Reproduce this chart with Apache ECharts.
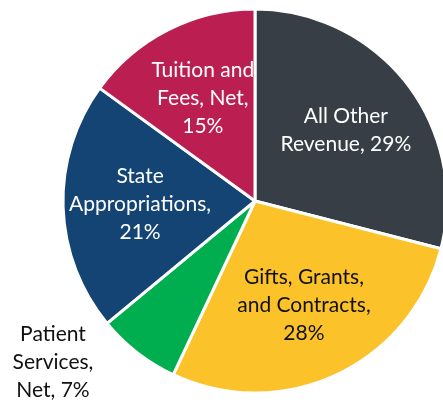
<!DOCTYPE html>
<html>
<head>
<meta charset="utf-8">
<script src="https://cdn.jsdelivr.net/npm/echarts@6/dist/echarts.min.js"></script>
<style>
  html, body { margin: 0; padding: 0; background: #fff; }
  #chart { width: 443px; height: 402px; }
</style>
</head>
<body>
<div id="chart"></div>
<script>
var categories = ['All Other Revenue', 'Gifts, Grants, and Contracts', 'Patient Services, Net', 'State Appropriations', 'Tuition and Fees, Net'];
var shares = [29, 28, 7, 21, 15];
var label_lines = [
    ['All Other', 'Revenue, 29%'],
    ['Gifts, Grants,', 'and Contracts,', '28%'],
    ['Patient', 'Services,', 'Net, 7%'],
    ['State', 'Appropriations,', '21%'],
    ['Tuition and', 'Fees, Net,', '15%']
];
var slice_colors = ['#373e45', '#fbc229', '#00ae4f', '#134473', '#bb1f52'];
var label_colors = ['#ffffff', '#111111', '#111111', '#ffffff', '#ffffff'];

var revenue_chart = echarts.init(document.getElementById('chart'));

var pie_data = categories.map(function (name, i) {
    return { name: name, value: shares[i], itemStyle: { color: slice_colors[i] } };
});

// transparent copy of the pie, only used to place the inside labels a bit further out
var label_data = categories.map(function (name, i) {
    return {
        name: name,
        value: shares[i],
        label: { show: i !== 2, color: label_colors[i], formatter: label_lines[i].join('\n') }
    };
});

var patient_item = pie_data[2];
patient_item.label = {
    show: true,
    position: 'outside',
    formatter: '{t|' + label_lines[2].join('\n') + '}',
    rich: { t: { width: 84, align: 'center', fontSize: 21, lineHeight: 28, fontFamily: 'Lato', color: '#111111' } }
};
patient_item.labelLine = { show: false, length: 12, length2: 30 };

var options = {
    animation: false,
    series: [
        {
            type: 'pie',
            center: [255, 201],
            radius: 192,
            startAngle: 90,
            clockwise: true,
            avoidLabelOverlap: false,
            silent: true,
            itemStyle: { borderColor: '#ffffff', borderWidth: 3 },
            label: { show: false },
            labelLine: { show: false },
            data: pie_data
        },
        {
            type: 'pie',
            center: [255, 201],
            radius: [44, 180],
            startAngle: 90,
            clockwise: true,
            avoidLabelOverlap: false,
            silent: true,
            itemStyle: { color: 'rgba(0,0,0,0)' },
            label: {
                position: 'inside',
                fontFamily: 'Lato',
                fontSize: 21,
                lineHeight: 28
            },
            labelLine: { show: false },
            data: label_data
        }
    ]
};

revenue_chart.setOption(options);
</script>
</body>
</html>
